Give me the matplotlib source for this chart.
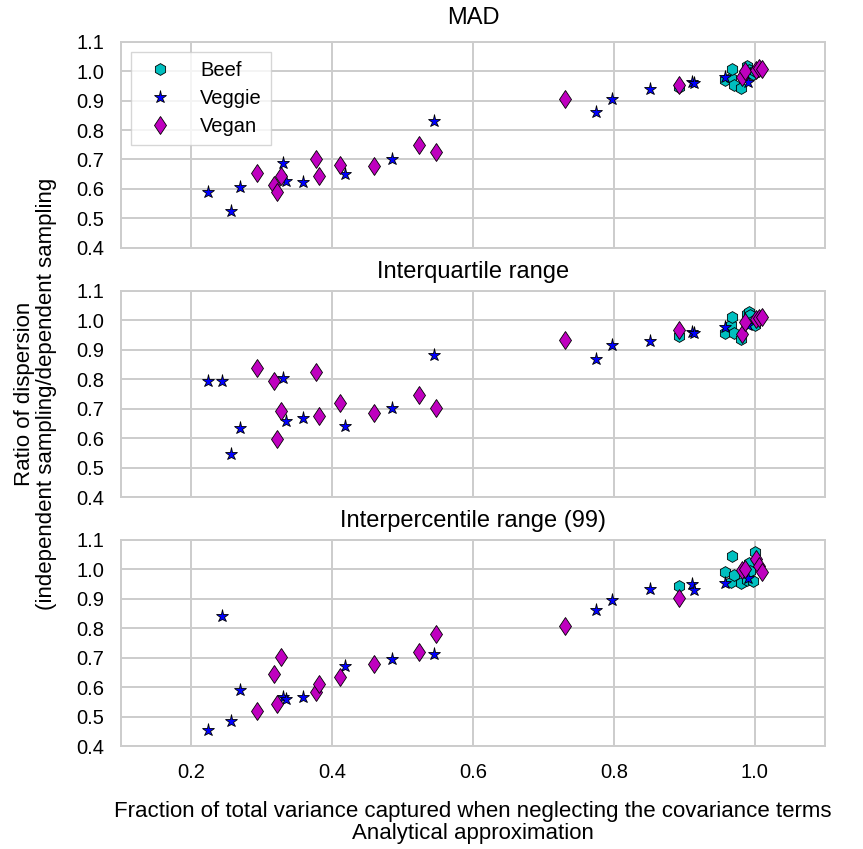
import numpy as np
import matplotlib
matplotlib.use("Agg")
import matplotlib.pyplot as plt

plt.rcParams['font.family'] = ['Liberation Sans', 'DejaVu Sans']

# x: fraction of variance captured (analytical approximation), shared by the three panels
x_beef = [0.892, 0.958, 0.966, 0.968, 0.971, 0.981, 0.989, 0.992, 0.994, 0.998, 1.000]
x_veggie = [0.224, 0.244, 0.257, 0.269, 0.330, 0.334, 0.359, 0.419, 0.485, 0.545,
            0.775, 0.798, 0.851, 0.911, 0.914, 0.958, 0.991]
x_vegan = [0.293, 0.317, 0.322, 0.327, 0.377, 0.381, 0.411, 0.459, 0.524, 0.547,
           0.731, 0.892, 0.982, 0.987, 1.002, 1.006, 1.010]

# ratio of dispersion, one list per statistic
mad_beef = [0.945, 0.970, 0.978, 1.006, 0.953, 0.942, 1.018, 1.004, 0.993, 0.990, 1.000]
mad_veggie = [0.591, np.nan, 0.526, 0.605, 0.689, 0.626, 0.625, 0.651, 0.703, 0.832,
              0.860, 0.906, 0.940, 0.964, 0.960, 0.981, 0.962]
mad_vegan = [0.655, 0.614, 0.589, 0.645, 0.703, 0.644, 0.683, 0.679, 0.748, 0.725,
             0.905, 0.953, 0.979, 1.001, 1.002, 1.012, 1.007]

iqr_beef = [0.946, 0.955, 0.984, 1.010, 0.955, 0.935, 1.022, 1.029, 1.018, 0.996, 0.985]
iqr_veggie = [0.794, 0.794, 0.546, 0.635, 0.805, 0.658, 0.669, 0.641, 0.703, 0.882,
              0.867, 0.917, 0.929, 0.959, 0.955, 0.978, 0.984]
iqr_vegan = [0.839, 0.794, 0.597, 0.693, 0.825, 0.675, 0.718, 0.684, 0.746, 0.703,
             0.932, 0.967, 0.953, 0.995, 1.003, 1.006, 1.010]

ipr_beef = [0.943, 0.989, 0.957, 1.046, 0.980, 0.954, 0.963, 1.020, 0.995, 0.961, 1.059]
ipr_veggie = [0.454, 0.842, 0.485, 0.590, 0.567, 0.559, 0.567, 0.671, 0.695, 0.711,
              0.861, 0.895, 0.933, 0.950, 0.929, 0.954, 0.971]
ipr_vegan = [0.519, 0.644, 0.544, 0.703, 0.582, 0.609, 0.633, 0.677, 0.720, 0.780,
             0.807, 0.903, 0.997, 1.000, 1.033, 1.011, 0.989]

titles = ["MAD", "Interquartile range", "Interpercentile range (99)"]
panels = [(mad_beef, mad_veggie, mad_vegan),
          (iqr_beef, iqr_veggie, iqr_vegan),
          (ipr_beef, ipr_veggie, ipr_vegan)]

fig = plt.figure(figsize=(8.63, 8.49), dpi=100)
boxes = [0.708, 0.4146, 0.1213]
title_pads = [13, 9, 9]
axes = []
for i, bottom in enumerate(boxes):
    ax = fig.add_axes([0.140, bottom, 0.816, 0.243])
    axes.append(ax)
    b, vg, vn = panels[i]
    ax.plot(x_beef, b, 'h', color='c', mec='k', mew=0.6, ms=8.5, label='Beef')
    ax.plot(x_veggie, vg, '*', color='b', mec='k', mew=0.6, ms=9.5, label='Veggie')
    ax.plot(x_vegan, vn, 'd', color='m', mec='k', mew=0.6, ms=9.5, label='Vegan')
    ax.set_xlim(0.1, 1.1)
    ax.set_ylim(0.4, 1.1)
    ax.set_xticks([0.2, 0.4, 0.6, 0.8, 1.0])
    ax.set_yticks(np.arange(0.4, 1.11, 0.1))
    ax.set_yticklabels(['%.1f' % v for v in np.arange(0.4, 1.11, 0.1)])
    ax.grid(True, color='#cccccc', lw=1.4)
    ax.set_axisbelow(True)
    for s in ax.spines.values():
        s.set_color('#cccccc')
        s.set_linewidth(1.4)
    ax.tick_params(length=0, labelsize=14.5, pad=12)
    ax.set_title(titles[i], fontsize=17, pad=title_pads[i])
    if i < 2:
        ax.tick_params(labelbottom=False)

axes[0].legend(loc='upper left', fontsize=14.5, frameon=True, edgecolor='#cccccc',
               fancybox=False, numpoints=1, labelspacing=0.45, handletextpad=1.0,
               borderpad=0.45, handlelength=2.0)
axes[1].set_ylabel("Ratio of dispersion\n(independent sampling/dependent sampling",
                   fontsize=16, labelpad=14, linespacing=1.05)
axes[2].set_xlabel("Fraction of total variance captured when neglecting the covariance terms\n"
                   "Analytical approximation", fontsize=16, labelpad=14, linespacing=1.05)

plt.savefig("out.png", dpi=100)
